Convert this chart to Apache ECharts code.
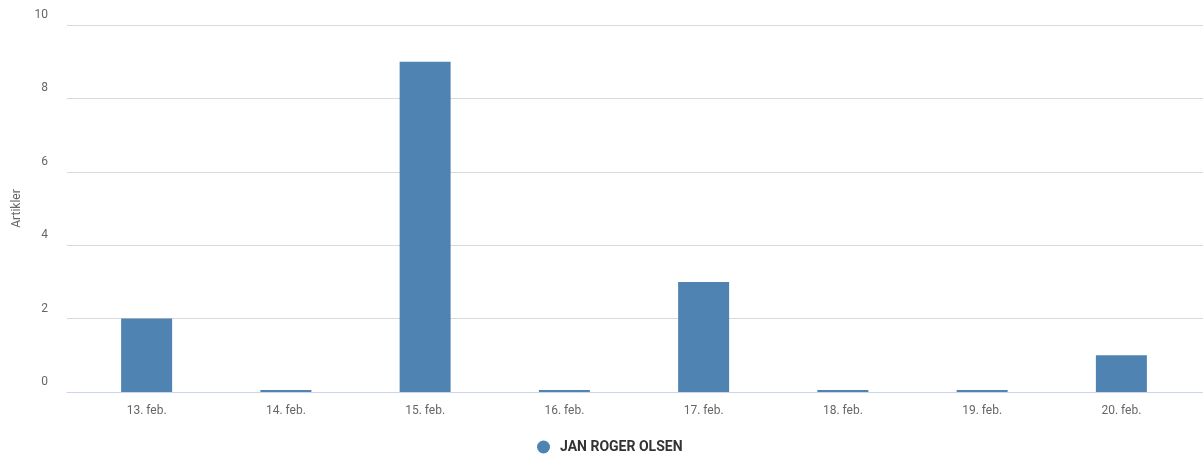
<!DOCTYPE html>
<html>
<head>
<meta charset="utf-8">
<script src="https://cdn.jsdelivr.net/npm/echarts@6/dist/echarts.min.js"></script>
<style>
  html, body { margin: 0; padding: 0; background: #fff; }
  #myChart { width: 1203px; height: 456px; }
</style>
</head>
<body>
<div id="myChart"></div>
<script>
const categories = ['13. feb.', '14. feb.', '15. feb.', '16. feb.', '17. feb.', '18. feb.', '19. feb.', '20. feb.'];
const articles = [2, 0, 9, 0, 3, 0, 0, 1];
const seriesName = 'JAN ROGER OLSEN';
const yTitle = 'Artikler';

const chart = echarts.init(document.getElementById('myChart'));
const font = 'Roboto, "Liberation Sans", sans-serif';

const option = {
  animation: false,
  textStyle: { fontFamily: font },
  legend: {
    bottom: 2,
    left: 537,
    padding: 0,
    icon: 'circle',
    itemWidth: 13,
    itemHeight: 13,
    itemGap: 10,
    textStyle: { fontSize: 14, fontWeight: 'bold', color: '#333', fontFamily: font, padding: [0, 0, 0, 5] },
    data: [seriesName]
  },
  grid: [
    // background grid: gridlines and axis line span the full width
    { left: 67, right: 0, top: 25, bottom: 64 },
    // bar area
    { left: 77, right: 12, top: 25, bottom: 64 }
  ],
  xAxis: [
    {
      gridIndex: 0,
      type: 'category',
      data: [''],
      axisLine: { show: true, lineStyle: { color: '#ccd6eb' } },
      axisTick: { show: false },
      axisLabel: { show: false }
    },
    {
      gridIndex: 1,
      type: 'category',
      data: categories,
      axisLine: { show: false },
      axisTick: { show: false },
      axisLabel: { color: '#666', fontSize: 12, margin: 13, fontFamily: font }
    }
  ],
  yAxis: [
    {
      gridIndex: 0,
      type: 'value',
      min: 0,
      max: 10,
      interval: 2,
      name: yTitle,
      nameLocation: 'middle',
      nameGap: 44,
      nameTextStyle: { color: '#666', fontSize: 12, fontFamily: font },
      axisLine: { show: false },
      axisTick: { show: false },
      axisLabel: { color: '#666', fontSize: 12, margin: 19, verticalAlign: 'bottom', padding: [0, 0, 4, 0], fontFamily: font },
      splitLine: { lineStyle: { color: '#d9d9d9' } }
    },
    {
      gridIndex: 1,
      type: 'value',
      min: 0,
      max: 10,
      interval: 2,
      axisLine: { show: false },
      axisTick: { show: false },
      axisLabel: { show: false },
      splitLine: { show: false }
    }
  ],
  series: [
    {
      name: seriesName,
      type: 'bar',
      xAxisIndex: 1,
      yAxisIndex: 1,
      barWidth: 51,
      barMinHeight: 2,
      itemStyle: { color: '#4f84b2' },
      data: articles
    }
  ]
};

chart.setOption(option);
</script>
</body>
</html>
